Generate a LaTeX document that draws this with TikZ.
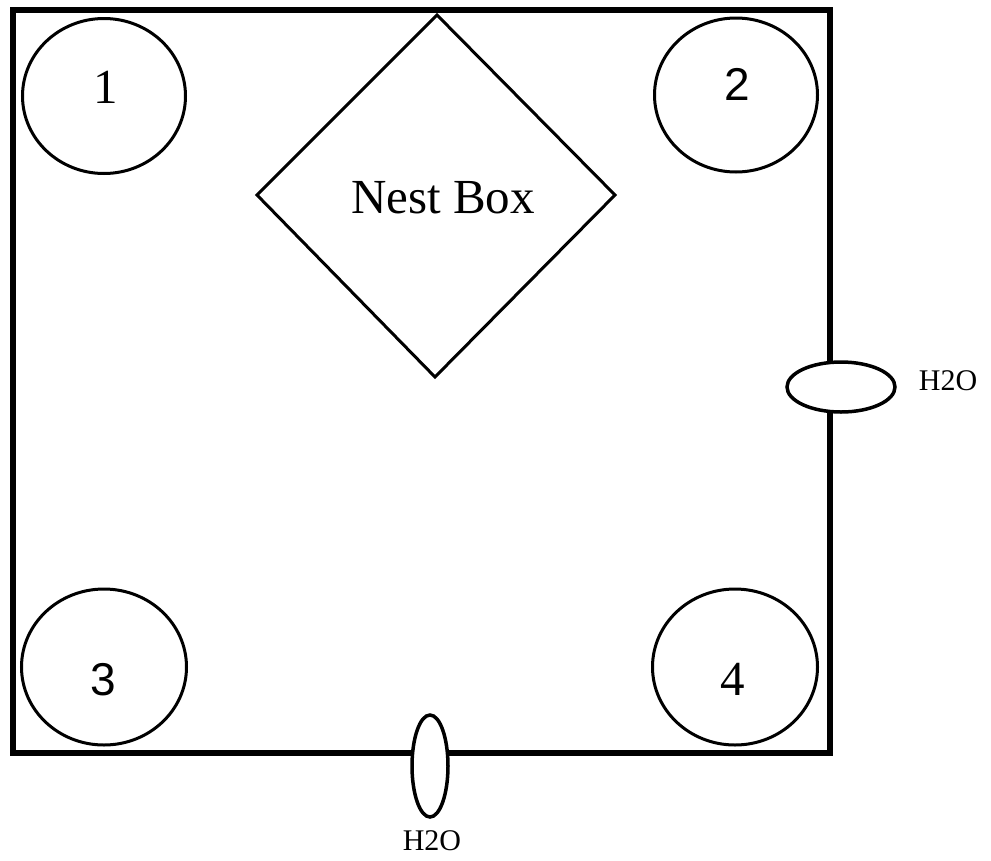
\documentclass[tikz,border=0pt]{standalone}
\usepackage{fontspec}
\setmainfont{Liberation Serif}
\newfontfamily\sansdig{Liberation Sans}
\usetikzlibrary{shapes.geometric}
\begin{document}
\begin{tikzpicture}[x=1pt,y=-1pt,
  pen/.style={draw=black,line width=3pt},
  wall/.style={draw=black,line width=6pt,line join=miter},
  cage/.style={pen,ellipse,inner sep=0pt},
  water/.style={draw=black,line width=3.5pt,fill=white,ellipse,inner sep=0pt},
  num/.style={anchor=base,inner sep=0pt,font=\fontsize{49}{49}\selectfont},
  snum/.style={anchor=base,inner sep=0pt,font=\sansdig\fontsize{46}{46}\selectfont},
  lbl/.style={anchor=base,inner sep=0pt,font=\fontsize{30}{30}\selectfont},
  nest/.style={anchor=base,inner sep=0pt,font=\fontsize{49}{49}\selectfont}]
\useasboundingbox (0,0) rectangle (991,860);
% pen walls
\draw[wall] (13,10) rectangle (830,753);
% cages
\node[cage,minimum width=163pt,minimum height=155pt] (c1) at (104,96) {};
\node[cage,minimum width=163pt,minimum height=154pt] (c2) at (736,95) {};
\node[cage,minimum width=165pt,minimum height=156pt] (c3) at (104,667) {};
\node[cage,minimum width=165pt,minimum height=156pt] (c4) at (735,667) {};
\node[num] (n1) at (106,103) {1};
\node[snum] (n2) at (737,100) {2};
\node[snum] (n3) at (103,695) {3};
\node[num] (n4) at (733,695) {4};
% nest box
\coordinate (dt) at (437,15);
\coordinate (dl) at (257,195);
\coordinate (db) at (435,377);
\coordinate (dr) at (615,195);
\draw[pen,line join=miter] (dt) -- (dr) -- (db) -- (dl) -- cycle;
\node[nest] (nb) at (443,213) {Nest Box};
% water bottles
\node[water,minimum width=108pt,minimum height=50pt] (w1) at (841,387) {};
\node[lbl] (h1) at (948,390) {H2O};
\node[water,minimum width=36pt,minimum height=102pt] (w2) at (430,766) {};
\node[lbl] (h2) at (432,850) {H2O};
\end{tikzpicture}
\end{document}
